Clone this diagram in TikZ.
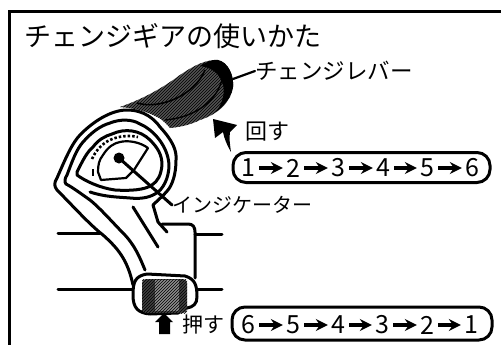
\documentclass[tikz,border=0pt]{standalone}
\usepackage{fontspec}
\setmainfont{Noto Sans CJK JP}
\usetikzlibrary{arrows.meta,patterns}
\tikzset{
  ln/.style={line width=3pt,line cap=round,line join=round},
  lnthin/.style={line width=2.2pt,line cap=round,line join=round},
  lbl/.style={inner sep=0pt,anchor=west,font=\fontsize{#1}{#1}\selectfont},
  pill/.style={draw,line width=3pt,rounded corners=13pt,inner sep=0pt},
  num/.style={inner sep=0pt,font=\fontsize{25}{25}\selectfont},
  sarr/.style={-{Stealth[length=12pt,width=12pt]},line width=3.4pt,shorten >=3pt,shorten <=4pt},
  hatch/.style={pattern=north east lines,pattern color=black}
}
\begin{document}
\begin{tikzpicture}[x=1pt,y=-1pt]
\useasboundingbox (0,0) rectangle (501,345);
\fill[white] (0,0) rectangle (501,345);
\draw[line width=3pt] (9,345) -- (9,11.5) -- (501,11.5);
\node[lbl=27] (title) at (24,36) {チェンジギアの使いかた};
% lever
\fill[black!68] (120,107) .. controls (140,100) and (160,90) .. (180,75) .. controls (195,65) and (205,60) .. (217,60)
 .. controls (228,62) and (234,75) .. (233,87) .. controls (230,105) and (215,115) .. (200,120) .. controls (190,125) and (180,127) .. (170,128)
 .. controls (165,122) and (160,118) .. (157,117) .. controls (148,112) and (135,108) .. (120,107) -- cycle;
\fill[hatch] (120,107) .. controls (140,100) and (160,90) .. (180,75) .. controls (195,65) and (205,60) .. (217,60)
 .. controls (228,62) and (234,75) .. (233,87) .. controls (230,105) and (215,115) .. (200,120) .. controls (190,125) and (180,127) .. (170,128)
 .. controls (165,122) and (160,118) .. (157,117) .. controls (148,112) and (135,108) .. (120,107) -- cycle;
\fill (200,66) .. controls (208,61) and (215,59) .. (218,60) .. controls (228,62) and (234,75) .. (233,87) .. controls (231,98) and (224,106) .. (216,112)
 .. controls (226,98) and (226,85) .. (218,75) .. controls (213,69) and (207,67) .. (200,66) -- cycle;
\draw[black,line width=1.6pt] (137,103) .. controls (160,110) and (195,95) .. (205,70);
\draw[black,line width=1.4pt] (165,120) .. controls (190,118) and (215,105) .. (222,80);
% outer ring with first body line
\draw[ln] (133,285) .. controls (128,262) and (120,250) .. (103,235) .. controls (90,225) and (72,205) .. (57,190)
 .. controls (54,186) and (54,183) .. (57,178) .. controls (65,160) and (72,142) .. (82,133) .. controls (92,123) and (110,110) .. (127,110)
 .. controls (145,110) and (155,120) .. (160,127) .. controls (172,140) and (177,150) .. (176,160) .. controls (176,175) and (172,185) .. (168,190)
 .. controls (163,196) and (158,200) .. (153,205) -- (158,222) -- (167,232);
% second ring with second body line
\draw[ln] (145,270) .. controls (140,258) and (135,245) .. (123,233) .. controls (115,225) and (100,208) .. (90,200) .. controls (80,193) and (72,187) .. (66,184)
 .. controls (64,182) and (65,178) .. (67,175) .. controls (72,162) and (76,150) .. (83,142) .. controls (92,132) and (100,126) .. (110,123)
 .. controls (120,119) and (132,119) .. (140,124) .. controls (152,129) and (168,145) .. (169,165) .. controls (169,178) and (163,190) .. (155,194)
 .. controls (148,198) and (140,199) .. (130,198) .. controls (118,197) and (105,197) .. (90,192);
% third ring
\draw[ln] (77,172) .. controls (83,160) and (87,152) .. (93,147) .. controls (98,140) and (105,136) .. (112,134)
 .. controls (125,128) and (140,130) .. (150,140) .. controls (158,148) and (162,155) .. (162,165) .. controls (161,175) and (158,181) .. (152,185)
 .. controls (145,190) and (130,191) .. (115,190) .. controls (100,188) and (85,181) .. (77,175) -- cycle;
% dial
\draw[lnthin,fill=white] (98,172) .. controls (98,165) and (99,160) .. (103,155) .. controls (108,147) and (114,143) .. (120,142)
 .. controls (128,140) and (140,142) .. (148,148) -- (134,170) -- (126,178) -- (101,180) -- cycle;
\draw[line width=2.6pt,dash pattern=on 2.5pt off 2pt] (92,159) .. controls (96,150) and (103,143) .. (110,140) .. controls (118,136) and (130,135) .. (138,137);
\draw[line width=1.6pt] (93,169) -- (93,176);
\fill (119,158) circle (5.5);
% indicator leader
\node[lbl=20] (ind) at (172,205) {インジケーター};
\draw[ln] (119,158) -- (ind.west);
% lever label
\node[lbl=22.5] (lev) at (255,71) {チェンジレバー};
\draw[lnthin] (233,79) -- (lev.west);
% body
\draw[ln] (133,207) -- (158,247);
\draw[ln] (162,224) -- (188,224) .. controls (193,224) and (195,227) .. (195,232) -- (195,278);
\draw[ln] (58,233) -- (100,233);
\draw[ln] (195,234) -- (222,234);
\draw[ln] (58,289) -- (133,289);
\draw[ln] (197,289) -- (222,289);
% grip
\draw[ln,fill=white] (133,295) .. controls (133,282) and (135,276) .. (147,274) -- (185,276) .. controls (195,279) and (197,285) .. (197,297)
 .. controls (197,304) and (193,307) .. (187,308) -- (178,313) -- (150,314) .. controls (138,313) and (133,308) .. (133,295) -- cycle;
\fill[black!75,rounded corners=4pt] (142,279) rectangle (187,313);
\fill[black!45] (155,280) rectangle (179,311);
\fill[hatch] (142,279) rectangle (187,313);
% arrows
\fill (213,119) -- (237,125) -- (230,132) .. controls (229,138) and (230,145) .. (231,152) .. controls (227,145) and (224,138) .. (223,132) -- (215,138) -- cycle;
\fill (164,313) -- (173,322) -- (170,322) -- (170,334) -- (159,334) -- (159,322) -- (155,322) -- cycle;
% labels
\node[lbl=22] (rot) at (245,132) {回す};
\node[lbl=21] (push) at (182,325) {押す};
% pills
\node[pill,minimum width=257pt,minimum height=30pt] (p1) at (361.5,167.5) {};
\node[pill,minimum width=260pt,minimum height=33pt] (p2) at (362,323.5) {};
\foreach \n/\t/\x in {a/1/248,b/2/293,c/3/338,d/4/383,e/5/427,f/6/472}{
  \node[num] (u\n) at (\x,168) {\t};
}
\foreach \n/\t/\x in {a/6/248,b/5/293,c/4/338,d/3/382,e/2/427,f/1/471}{
  \node[num] (l\n) at (\x,325) {\t};
}
\foreach \p/\q in {a/b,b/c,c/d,d/e,e/f}{
  \draw[sarr] (u\p) -- (u\q);
  \draw[sarr] (l\p) -- (l\q);
}
\end{tikzpicture}
\end{document}
